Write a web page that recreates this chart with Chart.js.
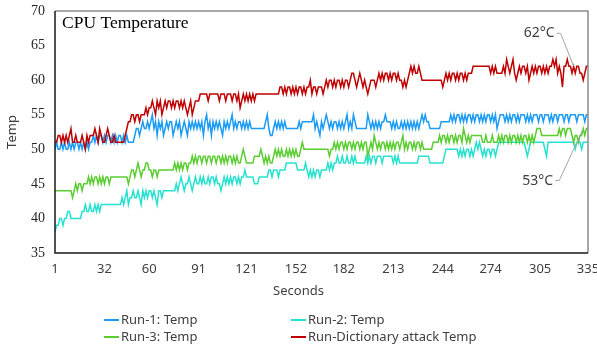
<!DOCTYPE html>
<html>
<head>
<meta charset="utf-8">
<title>CPU Temperature</title>
<script src="https://cdn.jsdelivr.net/npm/chart.js@4.4.0/dist/chart.umd.min.js"></script>
<style>
  html, body { margin: 0; padding: 0; background: #fff; }
  #wrap { width: 597px; height: 349px; }
</style>
</head>
<body>
<div id="wrap"><canvas id="cpuChart" width="597" height="349"></canvas></div>
<script>
// Sample index (seconds) and the labelled positions on the x axis
const seconds = Array.from({ length: 335 }, (_, i) => i + 1);
const secondTicks = [1, 32, 60, 91, 121, 152, 182, 213, 244, 274, 305, 335];
const tempTicks = [35, 40, 45, 50, 55, 60, 65, 70];

// Temperatures in °C, one reading per second
const run1Temp = [
  50,51,50,50,51,50,51,50,50,51, 50,51,50,51,51,50,51,50,51,50,
  51,50,51,51,52,51,52,51,52,52, 51,52,51,52,52,51,52,51,52,51,
  52,52,51,52,51,52,51,51,51,51, 52,53,53,52,53,54,53,53,54,53,
  54,55,53,54,52,54,53,54,52,53, 54,53,54,54,52,53,54,53,54,52,
  53,54,53,52,54,53,54,53,54,53, 54,53,54,52,54,55,53,54,52,54,
  53,54,53,54,53,52,54,53,54,53, 54,55,53,54,53,54,54,53,54,53,
  54,53,54,53,53,53,53,53,53,53, 53,53,54,55,53,52,52,53,54,53,
  54,53,54,53,54,53,53,53,53,53, 53,53,53,54,53,54,54,54,54,54,
  54,54,55,53,54,53,52,54,53,54, 55,54,53,54,53,54,54,53,54,53,
  54,53,54,55,53,54,53,55,54,53, 53,53,53,53,53,53,55,54,53,54,
  53,54,53,54,53,54,54,55,54,54, 54,53,54,53,54,53,53,54,53,54,
  53,54,53,54,53,54,53,54,53,54, 55,54,55,54,54,53,53,53,53,53,
  53,53,54,54,54,54,54,54,55,54, 55,54,55,55,54,55,54,55,54,55,
  55,54,55,54,55,55,54,55,54,55, 54,55,55,54,55,54,55,53,54,55,
  55,55,54,55,54,55,54,55,55,54, 55,54,55,55,55,54,55,54,55,54,
  55,55,55,54,55,55,54,55,55,55, 54,55,54,55,55,54,55,55,55,54,
  55,55,54,55,55,55,55,54,55,55, 55,55,54,55,55
];

const run2Temp = [
  38,39,39,40,40,39,40,40,41,41, 40,40,40,40,40,40,40,41,41,42,
  41,41,42,41,41,42,41,42,41,42, 42,42,42,42,42,42,42,42,42,42,
  42,42,43,42,43,44,42,43,43,44, 43,43,44,43,42,44,43,44,43,44,
  44,43,44,43,42,44,44,43,44,44, 44,44,44,44,44,44,45,44,45,46,
  45,44,45,45,46,45,44,45,46,45, 45,46,45,46,45,45,46,45,46,46,
  45,46,45,45,44,45,46,45,46,45, 46,45,46,46,45,46,45,46,46,47,
  46,46,46,46,46,45,45,45,46,46, 46,46,46,46,47,47,46,47,47,47,
  46,47,47,47,47,48,48,48,48,48, 48,48,47,47,47,47,47,48,47,46,
  47,46,47,46,47,47,46,47,47,47, 47,48,47,48,47,48,48,49,48,48,
  49,48,48,49,48,48,49,48,49,48, 48,48,48,48,48,49,48,49,48,49,
  49,48,49,49,49,48,49,49,49,49, 49,49,48,49,48,49,48,48,48,48,
  48,48,48,48,48,48,48,48,49,49, 49,49,49,49,49,48,48,48,48,48,
  48,48,48,48,49,50,50,50,50,50, 50,50,50,49,50,49,50,49,50,50,
  49,50,49,50,51,50,51,50,49,50, 49,50,50,49,50,50,49,50,51,51,
  51,51,51,51,51,51,51,51,51,51, 51,51,51,51,51,50,49,50,51,51,
  51,51,51,51,51,51,51,50,49,51, 51,51,51,51,51,51,51,51,51,51,
  51,51,51,51,51,51,50,51,51,51, 50,51,51,51,51
];

const run3Temp = [
  44,44,44,44,44,44,44,44,44,44, 44,43,44,45,44,45,45,44,45,45,
  45,46,45,46,45,46,46,45,46,45, 46,45,46,46,45,46,46,46,46,46,
  46,46,46,46,46,46,45,46,47,47, 46,47,48,47,46,47,47,48,48,47,
  47,46,47,47,46,47,47,47,47,47, 47,47,47,47,47,48,47,48,47,48,
  47,48,48,47,48,48,49,48,49,48, 49,49,48,49,49,48,49,49,48,49,
  49,48,49,49,48,49,48,49,48,49, 49,48,49,48,49,48,48,49,50,49,
  48,48,48,48,48,49,49,49,49,50, 49,48,49,48,49,48,48,49,50,49,
  50,49,50,49,49,50,49,50,49,50, 49,50,49,49,50,51,50,50,50,50,
  50,50,50,50,50,50,50,50,50,50, 50,50,49,50,50,51,50,51,50,51,
  51,50,51,50,51,51,50,51,50,51, 51,50,51,50,51,51,49,50,51,50,
  52,51,50,51,50,51,51,50,51,50, 51,50,51,50,51,51,50,51,52,50,
  51,50,51,51,50,51,50,51,51,50, 51,50,50,50,50,50,50,51,51,51,
  51,52,51,52,52,51,52,51,52,52, 51,52,51,52,52,51,53,52,51,52,
  51,52,52,52,52,52,52,52,51,51, 52,51,51,51,52,51,51,51,52,51,
  52,51,52,52,51,52,51,52,52,51, 52,51,52,51,52,52,51,52,51,52,
  51,52,53,53,53,52,52,52,52,52, 52,52,52,52,52,52,53,52,53,53,
  52,53,53,53,52,51,52,52,51,52, 52,53,52,53,53
];

const dictTemp = [
  51,51,52,52,51,52,51,52,51,52, 53,51,51,52,51,51,51,52,51,50,
  52,51,52,52,52,53,52,51,53,52, 51,51,52,53,52,51,51,52,51,51,
  51,51,51,51,52,53,54,54,55,55, 54,55,55,54,55,55,55,56,55,56,
  56,57,56,55,57,56,57,55,56,57, 56,57,57,56,57,56,57,57,56,57,
  56,57,56,55,56,57,55,56,57,57, 57,58,58,58,58,58,57,58,58,58,
  58,58,58,57,58,58,58,57,58,58, 58,57,58,58,57,58,56,57,58,57,
  58,57,58,57,58,57,58,58,58,58, 58,58,58,58,58,58,58,58,58,58,
  58,59,59,58,59,58,59,59,58,59, 58,59,58,59,59,58,59,58,59,59,
  60,58,59,59,58,59,59,59,58,59, 60,59,60,60,59,60,59,60,60,59,
  60,59,60,60,59,60,61,61,60,59, 60,61,60,59,60,59,58,59,60,60,
  60,59,60,61,60,61,60,61,61,60, 61,60,61,61,60,61,60,60,59,60,
  59,60,61,62,61,62,61,61,62,61, 60,60,60,60,60,60,60,60,60,60,
  60,60,60,59,60,61,60,61,60,61, 61,60,61,60,61,61,60,61,60,61,
  61,61,62,62,62,62,62,62,62,62, 62,62,62,61,62,61,62,61,61,61,
  61,62,61,63,62,61,62,63,61,60, 61,62,61,62,62,61,62,60,61,62,
  61,62,61,62,62,61,62,61,62,61, 62,62,63,62,63,61,62,61,59,62,
  62,63,62,62,61,62,61,62,62,61, 61,60,61,62,62
];

const seriesNames = ['Run-1: Temp', 'Run-2: Temp', 'Run-3: Temp', 'Run-Dictionary attack Temp'];
const seriesColors = ['#1c9cf6', '#25e2cf', '#5acd30', '#c00000'];

// Value callouts: which reading they point at and where the text sits
const callouts = [
  { data: dictTemp, index: 325, dx: -19, dy: -33 },
  { data: run3Temp, index: 331, dx: -30, dy: 52 }
];

const SANS = '"Noto Sans", "DejaVu Sans", sans-serif';
const SERIF = '"Liberation Serif", "DejaVu Serif", serif';

// Frame, inner title, x axis title, callouts and the two-column legend
const cpuDecor = {
  id: 'cpuDecor',
  afterDraw(chart) {
    const { ctx, chartArea: a, scales: { x, y } } = chart;
    ctx.save();

    ctx.lineWidth = 1.5;
    ctx.strokeStyle = '#8c8c8c';
    ctx.beginPath();
    ctx.moveTo(a.left, a.top);
    ctx.lineTo(a.right, a.top);
    ctx.lineTo(a.right, a.bottom);
    ctx.stroke();
    ctx.strokeStyle = '#1a1a1a';
    ctx.beginPath();
    ctx.moveTo(a.left, a.top);
    ctx.lineTo(a.left, a.bottom);
    ctx.lineTo(a.right, a.bottom);
    ctx.stroke();

    ctx.fillStyle = '#000';
    ctx.font = '17.5px ' + SERIF;
    ctx.textAlign = 'left';
    ctx.textBaseline = 'middle';
    ctx.fillText('CPU Temperature', a.left + 7, a.top + 12);

    // axis title is centred on the whole chart, not on the plot area
    ctx.fillStyle = '#404040';
    ctx.font = '13px ' + SANS;
    ctx.textAlign = 'center';
    ctx.fillText('Seconds', chart.width / 2, 291);

    ctx.font = '14px ' + SANS;
    ctx.textAlign = 'right';
    callouts.forEach(c => {
      const v = c.data[c.index];
      const px = x.getPixelForValue(seconds[c.index]);
      const py = y.getPixelForValue(v);
      const tx = px + c.dx, ty = py + c.dy;
      ctx.strokeStyle = '#a6a6a6';
      ctx.lineWidth = 1;
      ctx.beginPath();
      ctx.moveTo(tx + 2, ty);
      ctx.lineTo(tx + 6, ty);
      ctx.lineTo(px, py);
      ctx.stroke();
      ctx.fillStyle = '#404040';
      ctx.fillText(v + '°C', tx, ty);
    });

    const cols = [104, 291];
    const rows = [320, 337];
    ctx.font = '13px ' + SANS;
    ctx.textAlign = 'left';
    chart.data.datasets.forEach((ds, k) => {
      const lx = cols[k % 2], ly = rows[Math.floor(k / 2)];
      ctx.strokeStyle = ds.borderColor;
      ctx.lineWidth = 2;
      ctx.beginPath();
      ctx.moveTo(lx, ly);
      ctx.lineTo(lx + 15, ly);
      ctx.stroke();
      ctx.fillStyle = '#404040';
      ctx.fillText(ds.label, lx + 17, ly);
    });

    ctx.restore();
  }
};

const seriesData = [run1Temp, run2Temp, run3Temp, dictTemp];

new Chart(document.getElementById('cpuChart'), {
  type: 'line',
  data: {
    labels: seconds,
    datasets: seriesData.map((d, k) => ({
      label: seriesNames[k],
      data: d,
      borderColor: seriesColors[k],
      backgroundColor: seriesColors[k],
      borderWidth: 1.5,
      pointRadius: 0,
      tension: 0,
      order: 4 - k
    }))
  },
  options: {
    responsive: false,
    animation: false,
    layout: { padding: { top: 11, right: 9, bottom: 43, left: 0 } },
    plugins: { legend: { display: false }, tooltip: { enabled: false } },
    scales: {
      x: {
        type: 'linear',
        min: 1,
        max: 335,
        grid: { display: false, drawTicks: false },
        border: { display: false },
        afterBuildTicks: s => { s.ticks = secondTicks.map(v => ({ value: v })); },
        afterFit: s => { s.height = 53; s.paddingLeft = 0; s.paddingRight = 0; },
        ticks: { padding: 8, maxRotation: 0, autoSkip: false, color: '#404040', font: { family: SANS, size: 13 } },
        title: { display: false }
      },
      y: {
        min: 35,
        max: 70,
        grid: { display: false, drawTicks: false },
        border: { display: false },
        afterBuildTicks: s => { s.ticks = tempTicks.map(v => ({ value: v })); },
        afterFit: s => { s.width = 55; s.paddingTop = 0; s.paddingBottom = 0; },
        ticks: { padding: 10, color: '#262626', font: { family: SERIF, size: 14 } },
        title: { display: true, text: 'Temp', color: '#404040', padding: { top: 4, bottom: 0 }, font: { family: SANS, size: 13 } }
      }
    }
  },
  plugins: [cpuDecor]
});
</script>
</body>
</html>
